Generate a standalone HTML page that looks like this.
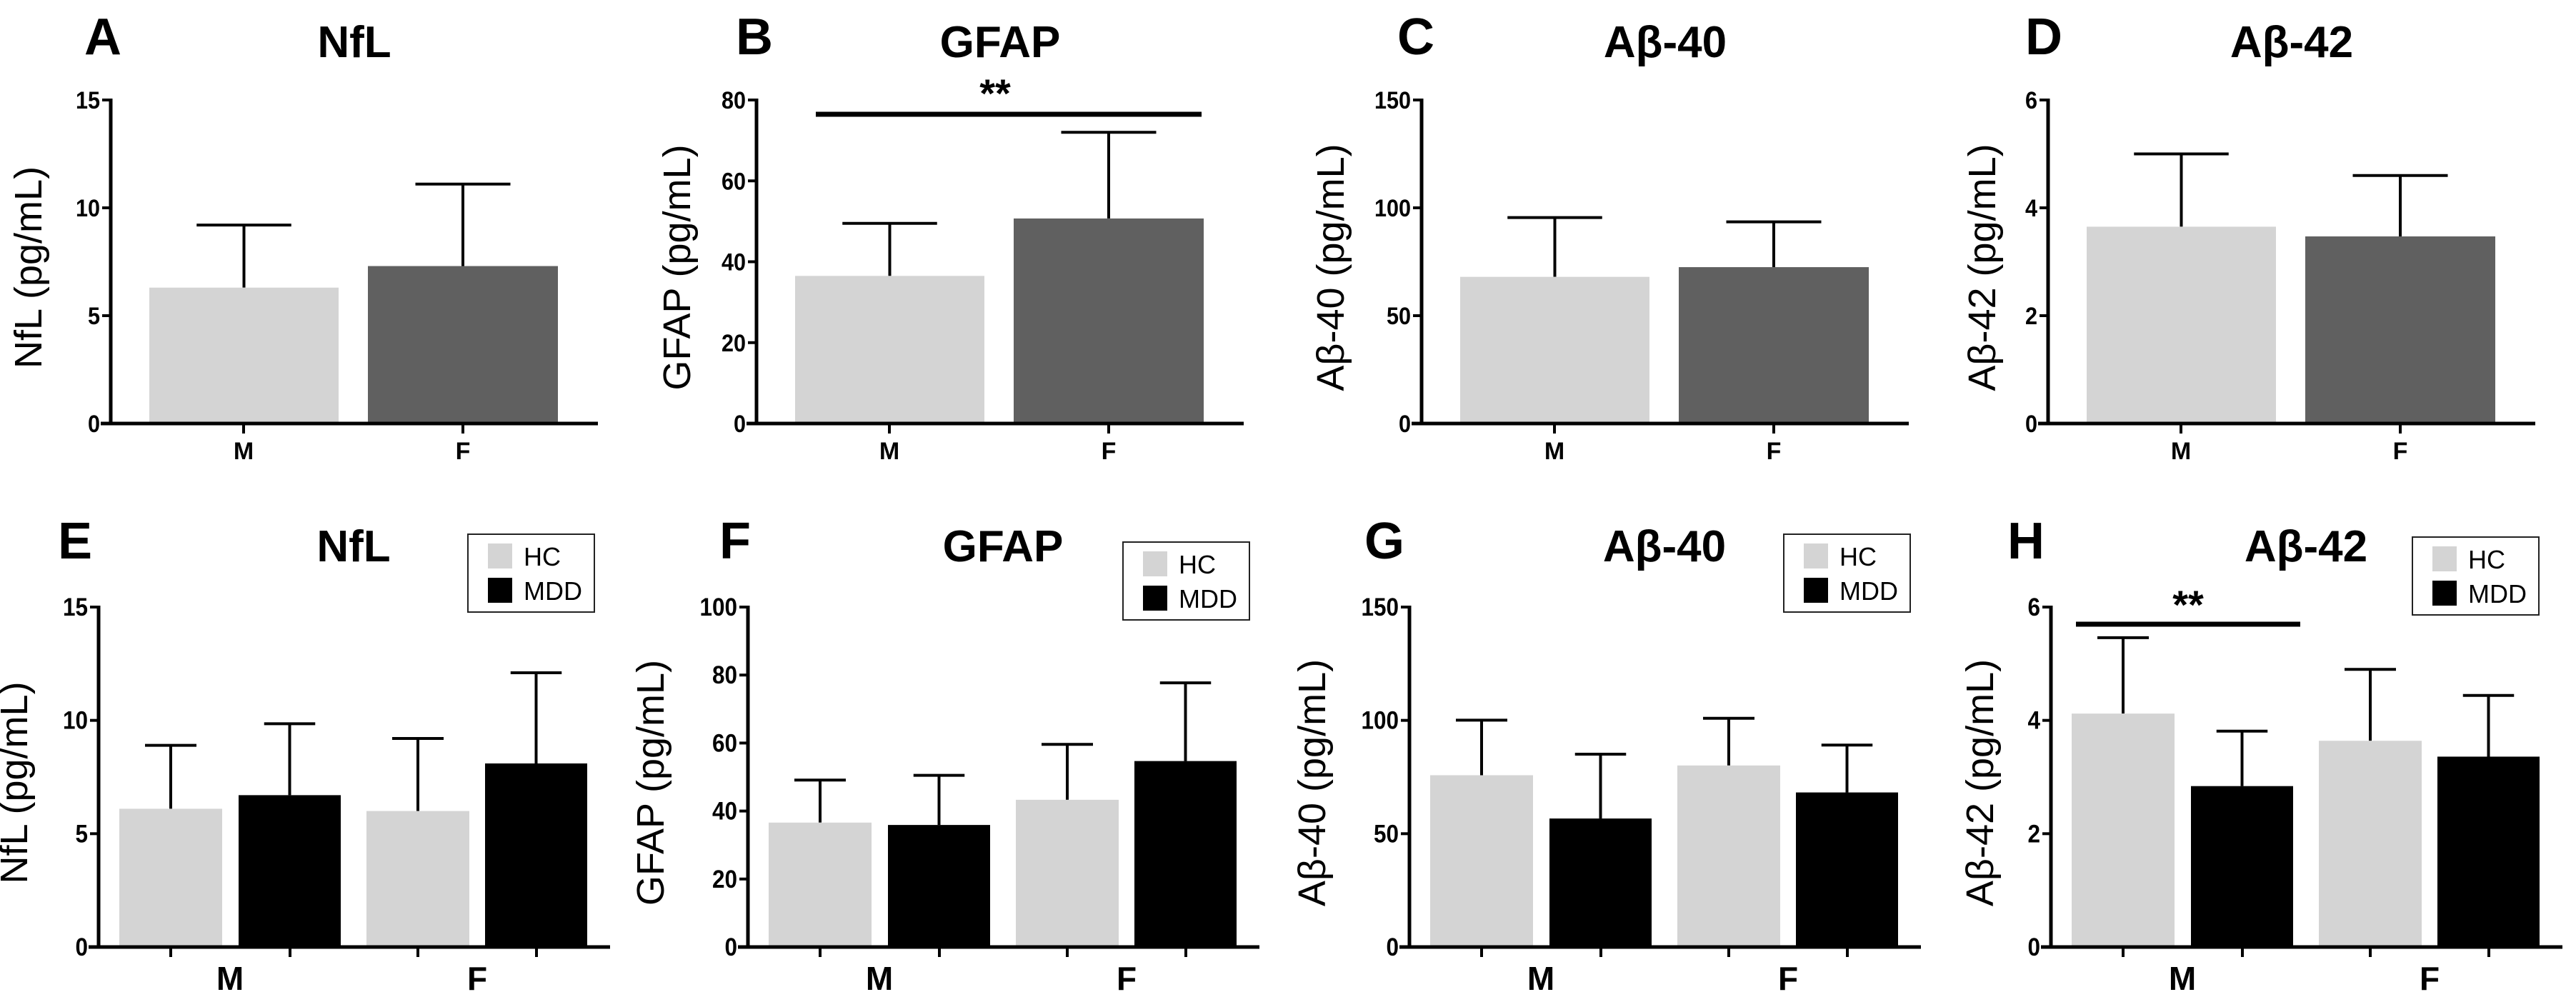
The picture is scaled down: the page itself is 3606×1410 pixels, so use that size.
<!DOCTYPE html>
<html><head><meta charset="utf-8"><style>
html,body{margin:0;padding:0;background:#fff;}
svg{display:block;font-family:"Liberation Sans",Arial,sans-serif;}
</style></head><body>
<svg id="fig" width="3606" height="1410" viewBox="0 0 3606 1410" xmlns="http://www.w3.org/2000/svg"></svg>
<script>
// ---- data ----
const sexCategories = ['M','F'];
const groupSeries = ['HC','MDD'];
const nflTicks = [0,5,10,15];
const gfapTopTicks = [0,20,40,60,80];
const gfapBotTicks = [0,20,40,60,80,100];
const ab40Ticks = [0,50,100,150];
const ab42Ticks = [0,2,4,6];
// top row: mean and mean+SD per sex
const nflSexMean = [6.3, 7.3];
const nflSexUpper = [9.2, 11.1];
const gfapSexMean = [36.5, 50.7];
const gfapSexUpper = [49.5, 72.0];
const ab40SexMean = [68, 72.5];
const ab40SexUpper = [95.5, 93.5];
const ab42SexMean = [3.65, 3.47];
const ab42SexUpper = [5.0, 4.6];
// bottom row: [M, F] per group
const nflHcMean = [6.1, 6.0], nflHcUpper = [8.9, 9.2];
const nflMddMean = [6.7, 8.1], nflMddUpper = [9.85, 12.1];
const gfapHcMean = [36.6, 43.3], gfapHcUpper = [49.1, 59.6];
const gfapMddMean = [35.9, 54.7], gfapMddUpper = [50.5, 77.7];
const ab40HcMean = [75.8, 80.1], ab40HcUpper = [100.1, 100.9];
const ab40MddMean = [56.7, 68.2], ab40MddUpper = [85.1, 89.1];
const ab42HcMean = [4.12, 3.64], ab42HcUpper = [5.46, 4.90];
const ab42MddMean = [2.84, 3.36], ab42MddUpper = [3.81, 4.44];

const NS='http://www.w3.org/2000/svg';
const svg=document.getElementById('fig');
function mk(tag,attrs,parent){const e=document.createElementNS(NS,tag);for(const k in attrs)e.setAttribute(k,attrs[k]);(parent||svg).appendChild(e);return e;}
function txt(s,attrs,parent){const e=mk('text',attrs,parent);e.textContent=s;return e;}

function panel(cfg){
  const g=mk('g',{});
  
  
  const ax=cfg.ax, y0=cfg.y0, yTop=cfg.yTop, max=cfg.ticks[cfg.ticks.length-1];
  const yScale=v=>y0-(v/max)*(y0-yTop);
  const L=txt(cfg.letter,{x:cfg.letterX,y:cfg.letterY,'font-size':72,'font-weight':'bold',fill:'#000'},g);
  
  
  const T=txt(cfg.title,{x:ax+cfg.titleDx,y:cfg.titleY,'font-size':62,'font-weight':'bold','text-anchor':'middle',fill:'#000'},g);
  
  
  cfg.ticks.forEach(t=>{
    const y=yScale(t);
    const tk=mk('line',{x1:ax-12,x2:ax,y1:y,y2:y,stroke:'#000','stroke-width':4},g);
    
    
    const tl=txt(String(t),{x:0,y:0,'font-size':cfg.tickFs,'font-weight':'bold','text-anchor':'end',fill:'#000',transform:`translate(${ax-15},${y+12}) scale(0.9,1)`},g);
    
    
  });
  const yt=txt(cfg.ytitle,{x:0,y:0,'font-size':54,'text-anchor':'middle',transform:`translate(${ax-cfg.ytDx},${(y0+yTop)/2+8}) rotate(-90)`,fill:'#000'},g);
  
  
  cfg.bars.forEach(b=>{
    const x=ax+b.dx, w=b.w, top=yScale(b.v), up=yScale(b.u), cx=x+w/2;
    const el=mk('line',{x1:cx,x2:cx,y1:top,y2:up,stroke:'#000','stroke-width':4},g);
    
    
    const cap=mk('line',{x1:cx-w/4,x2:cx+w/4,y1:up,y2:up,stroke:'#000','stroke-width':4},g);
    
    
    const r=mk('rect',{x:x,y:top,width:w,height:y0-top,fill:b.fill},g);
    
    
  });
  const ya=mk('line',{x1:ax,x2:ax,y1:yTop-2,y2:y0+2,stroke:'#000','stroke-width':5},g);
  
  
  const xa=mk('line',{x1:ax-14,x2:ax+cfg.xEnd,y1:y0,y2:y0,stroke:'#000','stroke-width':5},g);
  
  
  cfg.xticks.forEach(dx=>{
    const t=mk('line',{x1:ax+dx,x2:ax+dx,y1:y0,y2:y0+14,stroke:'#000','stroke-width':4},g);
    
    
  });
  cfg.cats.forEach(c=>{
    const t=txt(c.s,{x:ax+c.dx,y:c.y,'font-size':c.fs,'font-weight':'bold','text-anchor':'middle',fill:'#000'},g);
    
    
  });
  if(cfg.sig){
    const s=cfg.sig;
    const l=mk('line',{x1:s.x1,x2:s.x2,y1:s.y,y2:s.y,stroke:'#000','stroke-width':7},g);
    
    
    const st=txt('**',{x:s.sx,y:s.sy,'font-size':56,'font-weight':'bold','text-anchor':'middle',fill:'#000'},g);
    
    
  }
  if(cfg.legend){
    const lg=cfg.legend;
    const lgG=mk('g',{},g);
    
    
    const bx=mk('rect',{x:lg.x,y:lg.y,width:177,height:109,fill:'#fff',stroke:'#222','stroke-width':2},lgG);
    
    
    [['#d4d4d4',groupSeries[0],13],['#000',groupSeries[1],61]].forEach(([f,s,dy])=>{
      const sw=mk('rect',{x:lg.x+28,y:lg.y+dy,width:34,height:35,fill:f},lgG);
      
      
      const t=txt(s,{x:lg.x+78,y:lg.y+dy+31,'font-size':36,fill:'#000'},lgG);
      
      
    });
  }
}

function topPanel(letter,ax,title,ytitle,ticks,mean,upper,ytDx,letterX){
  panel({letter,ax,title,ytitle,ticks,ytDx,letterX,letterY:76,titleY:80,titleDx:341,
    y0:593,yTop:140,tickFs:34,xEnd:682,
    bars:[{name:'m',dx:54,w:265,v:mean[0],u:upper[0],fill:'#d4d4d4'},
          {name:'f',dx:360,w:266,v:mean[1],u:upper[1],fill:'#606060'}],
    xticks:[186,493],
    cats:[{s:sexCategories[0],dx:186,y:643,fs:34},{s:sexCategories[1],dx:493,y:643,fs:34}]});
}
function botPanel(letter,ax,title,ytitle,ticks,hm,hu,mm,mu,ytDx,letterX,legX,legY,sig){
  const dxs=[29,196,375,541];
  panel({letter,ax,title,ytitle,ticks,ytDx,letterX,letterY:782,titleY:786,titleDx:357,
    y0:1326,yTop:850,tickFs:35,xEnd:716,
    bars:[{name:'hc-m',dx:dxs[0],w:144,v:hm[0],u:hu[0],fill:'#d4d4d4'},
          {name:'mdd-m',dx:dxs[1],w:143,v:mm[0],u:mu[0],fill:'#000'},
          {name:'hc-f',dx:dxs[2],w:144,v:hm[1],u:hu[1],fill:'#d4d4d4'},
          {name:'mdd-f',dx:dxs[3],w:143,v:mm[1],u:mu[1],fill:'#000'}],
    xticks:dxs.map(d=>d+72),
    cats:[{s:sexCategories[0],dx:184,y:1386,fs:46},{s:sexCategories[1],dx:530,y:1386,fs:46}],
    legend:{x:legX,y:legY},sig});
}

topPanel('A',155,'NfL','NfL (pg/mL)',nflTicks,nflSexMean,nflSexUpper,97,118);
topPanel('B',1059,'GFAP','GFAP (pg/mL)',gfapTopTicks,gfapSexMean,gfapSexUpper,93,1030);
topPanel('C',1990,'Aβ-40','Aβ-40 (pg/mL)',ab40Ticks,ab40SexMean,ab40SexUpper,109,1956);
topPanel('D',2867,'Aβ-42','Aβ-42 (pg/mL)',ab42Ticks,ab42SexMean,ab42SexUpper,74,2835);
(function(){
  const l=mk('line',{x1:1142,x2:1682,y1:160,y2:160,stroke:'#000','stroke-width':7});
  
  
  const s=txt('**',{x:1393,y:150,'font-size':56,'font-weight':'bold','text-anchor':'middle',fill:'#000'});
  
  
})();

botPanel('E',138,'NfL','NfL (pg/mL)',nflTicks,nflHcMean,nflHcUpper,nflMddMean,nflMddUpper,100,81,655,748);
botPanel('F',1047,'GFAP','GFAP (pg/mL)',gfapBotTicks,gfapHcMean,gfapHcUpper,gfapMddMean,gfapMddUpper,118,1007,1572,759);
botPanel('G',1973,'Aβ-40','Aβ-40 (pg/mL)',ab40Ticks,ab40HcMean,ab40HcUpper,ab40MddMean,ab40MddUpper,118,1910,2497,748);
botPanel('H',2871,'Aβ-42','Aβ-42 (pg/mL)',ab42Ticks,ab42HcMean,ab42HcUpper,ab42MddMean,ab42MddUpper,81,2810,3377,752,
  {x1:2906,x2:3220,y:874,sx:3063,sy:866});
</script>
</body></html>
